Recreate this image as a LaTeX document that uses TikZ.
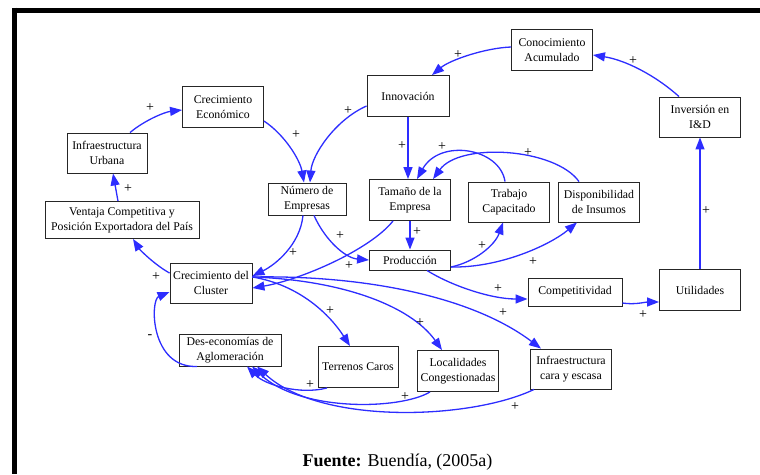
\documentclass[tikz,border=0pt]{standalone}
\usepackage{fontspec}
\setmainfont{Liberation Serif}
\newfontfamily\tms{Liberation Serif}
\usetikzlibrary{arrows.meta}
\definecolor{arrblue}{RGB}{45,45,255}
\tikzset{
  box/.style={draw=black!85, line width=0.9pt, fill=white, align=center, inner sep=1pt,
    font=\tms\fontsize{11.8}{15}\selectfont},
  arr/.style={draw=arrblue, line width=1.3pt, -{Triangle[length=12pt,width=9pt]}},
  sgn/.style={font=\tms\fontsize{14}{14}\selectfont, inner sep=0pt, text=black}
}
\begin{document}
\begin{tikzpicture}[x=1pt,y=-1pt]
\useasboundingbox (0,0) rectangle (760,474);
% frame
\draw[line width=5pt, black] (14.3,7.5) -- (14.3,474);
\draw[line width=5.5pt, black] (12,10.3) -- (760,10.3);

% nodes
\node[box, minimum width=81pt, minimum height=41pt] (conoc) at (552,50) {Conocimiento\\Acumulado};
\node[box, minimum width=82pt, minimum height=41pt] (innov) at (408,96) {Innovación};
\node[box, minimum width=81pt, minimum height=40pt] (invers) at (700,117) {Inversión en\\I\&D};
\node[box, minimum width=81pt, minimum height=41pt] (crecEco) at (223,107) {Crecimiento\\Económico};
\node[box, minimum width=80pt, minimum height=40pt] (infraUrb) at (107,153) {Infraestructura\\Urbana};
\node[box, minimum width=154pt, minimum height=37pt] (ventaja) at (122,220) {Ventaja Competitiva y\\Posición Exportadora del País};
\node[box, minimum width=78pt, minimum height=32pt] (numero) at (307,199) {Número de\\Empresas};
\node[box, minimum width=81pt, minimum height=41pt] (tamano) at (410,200) {Tamaño de la\\Empresa};
\node[box, minimum width=81pt, minimum height=40pt] (trabajo) at (509,202) {Trabajo\\Capacitado};
\node[box, minimum width=81pt, minimum height=40pt] (dispon) at (599,202) {Disponibilidad\\de Insumos};
\node[box, minimum width=81pt, minimum height=20pt] (produc) at (410,260) {Producción};
\node[box, minimum width=82pt, minimum height=40pt] (cluster) at (211,283) {Crecimiento del\\Cluster};
\node[box, minimum width=94pt, minimum height=28pt] (compet) at (575,292) {Competitividad};
\node[box, minimum width=81pt, minimum height=41pt] (util) at (700,290) {Utilidades};
\node[box, minimum width=102pt, minimum height=32pt] (deseco) at (230,350) {Des-economías de\\Aglomeración};
\node[box, minimum width=80pt, minimum height=41pt] (terrenos) at (358,367) {Terrenos Caros};
\node[box, minimum width=81pt, minimum height=41pt] (locali) at (458,371) {Localidades\\Congestionadas};
\node[box, minimum width=81pt, minimum height=40pt] (infraCara) at (571,369) {Infraestructura\\cara y escasa};

\node[font=\tms\fontsize{18}{18}\selectfont, inner sep=0pt, anchor=base] (fuente) at (397.5,466) {\textbf{Fuente:} Buendía, (2005a)};

% edges
\draw[arr] ([yshift=3pt]conoc.west) .. controls (485,48) and (450,60) .. ([xshift=24pt]innov.north);
\node[sgn] (s1) at (458,55) {+};
\draw[arr] ([xshift=-21pt]invers.north) .. controls (655,75) and (625,60) .. ([yshift=-5pt]conoc.east);
\node[sgn] (s2) at (633,61) {+};
\draw[arr] (util.north) -- (invers.south);
\node[sgn] (s3) at (706,211) {+};
\draw[arr] ([yshift=-11pt]compet.east) .. controls (635,305) and (645,302) .. ([yshift=-12pt]util.west);
\node[sgn] (s4) at (643,315) {+};
\draw[arr] ([xshift=17pt]produc.south) .. controls (450,285) and (490,299) .. ([yshift=-7pt]compet.west);
\node[sgn] (s5) at (498,289) {+};
\draw[arr] ([yshift=-7pt]produc.east) .. controls (475,262) and (495,245) .. ([xshift=-6pt]trabajo.south);
\node[sgn] (s6) at (482,246) {+};
\draw[arr] ([yshift=-7pt]produc.east) .. controls (500,268) and (550,245) .. ([xshift=-22pt]dispon.south);
\node[sgn] (s7) at (533,262) {+};
\draw[arr] ([xshift=-4pt]trabajo.north) .. controls (500,148) and (440,138) .. ([xshift=7pt]tamano.north);
\node[sgn] (s8) at (442,147) {+};
\draw[arr] ([xshift=-20pt]dispon.north) .. controls (555,148) and (460,142) .. ([xshift=23pt]tamano.north);
\node[sgn] (s9) at (528,153) {+};
\draw[arr] (innov.south) -- (innov.south |- tamano.north);
\node[sgn] (s10) at (402,146) {+};
\draw[arr] (tamano.south) -- (produc.north);
\node[sgn] (s11) at (417,232) {+};
\draw[arr] ([yshift=-14pt]crecEco.east) .. controls (285,135) and (300,160) .. ([xshift=-3pt]numero.north);
\node[sgn] (s12) at (296,135) {+};
\draw[arr] ([yshift=-10pt]innov.west) .. controls (335,120) and (312,155) .. ([xshift=3pt]numero.north);
\node[sgn] (s13) at (348,111) {+};
\draw[arr] ([xshift=23pt]infraUrb.north) .. controls (145,120) and (165,112) .. ([yshift=-3pt]crecEco.west);
\node[sgn] (s14) at (150,108) {+};
\draw[arr] ([xshift=-4pt]ventaja.north) -- ([xshift=6pt]infraUrb.south);
\node[sgn] (s15) at (128,189) {+};
\draw[arr] ([yshift=10pt]cluster.west) .. controls (155,265) and (140,250) .. ([xshift=11pt]ventaja.south);
\node[sgn] (s16) at (156,277) {+};
\draw[arr] ([xshift=-4pt]numero.south) .. controls (300,245) and (275,265) .. ([yshift=7pt]cluster.east);
\node[sgn] (s17) at (293,253) {+};
\draw[arr] ([xshift=7pt]numero.south) .. controls (325,240) and (345,258) .. (produc.west);
\node[sgn] (s18) at (340,236) {+};
\draw[arr] ([xshift=-17pt]tamano.south) .. controls (370,250) and (300,280) .. ([yshift=-5pt]cluster.east);
\node[sgn] (s19) at (349,266) {+};
\draw[arr] ([yshift=6pt]cluster.east) .. controls (300,285) and (330,315) .. ([xshift=-8pt]terrenos.north);
\node[sgn] (s20) at (330,311) {+};
\draw[arr] ([yshift=6pt]cluster.east) .. controls (340,280) and (410,305) .. ([xshift=-16pt]locali.north);
\node[sgn] (s21) at (420,323) {+};
\draw[arr] ([yshift=6pt]cluster.east) .. controls (360,275) and (470,295) .. ([xshift=-30pt]infraCara.north);
\node[sgn] (s22) at (503,313) {+};
\draw[arr] ([xshift=-33pt]deseco.south) .. controls (150,368) and (150,300) .. ([yshift=-9pt]cluster.west);
\node[sgn] (s23) at (150,337) {-};
\draw[arr] ([xshift=-31pt]terrenos.south) .. controls (300,395) and (265,385) .. ([xshift=17pt]deseco.south);
\node[sgn] (s24) at (310,385) {+};
\draw[arr] ([xshift=-28pt]locali.south) .. controls (400,410) and (300,412) .. ([xshift=22pt]deseco.south);
\node[sgn] (s25) at (405,397) {+};
\draw[arr] ([xshift=-37pt]infraCara.south) .. controls (470,420) and (320,425) .. ([xshift=27pt]deseco.south);
\node[sgn] (s26) at (515,407) {+};
\end{tikzpicture}
\end{document}
